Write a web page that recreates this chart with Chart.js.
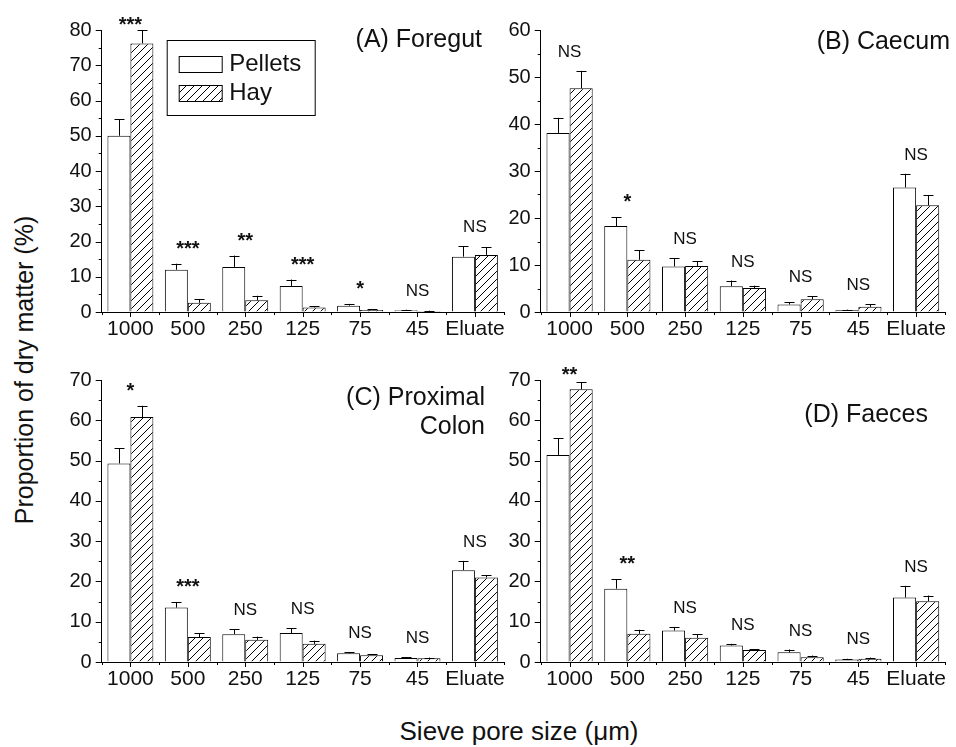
<!DOCTYPE html>
<html>
<head>
<meta charset="utf-8">
<script src="https://cdn.jsdelivr.net/npm/chart.js@4.4.0/dist/chart.umd.min.js"></script>
<style>
body { margin: 0; background: #fff; font-family: Arial, "Liberation Sans", sans-serif; }
#wrap { position: relative; width: 956px; height: 747px; overflow: hidden; }
canvas { position: absolute; }
.t { position: absolute; color: #111; white-space: nowrap; font-size: 25px; line-height: 29px; text-align: right; }
</style>
</head>
<body>
<div id="wrap">
	<canvas id="cA" width="470" height="345" style="left:40px;top:0px"></canvas>
	<canvas id="cB" width="476" height="345" style="left:480px;top:0px"></canvas>
	<canvas id="cC" width="470" height="345" style="left:40px;top:345px"></canvas>
	<canvas id="cD" width="476" height="345" style="left:480px;top:345px"></canvas>

	<div class="t" style="right:474px;top:24px">(A) Foregut</div>
	<div class="t" style="right:6px;top:26px">(B) Caecum</div>
	<div class="t" style="right:471px;top:382px">(C) Proximal<br>Colon</div>
	<div class="t" style="right:28px;top:399px">(D) Faeces</div>

	<div class="t" style="left:519px;top:718px;font-size:26px;line-height:26px;transform:translateX(-50%)">Sieve pore size (&mu;m)</div>
	<div class="t" style="left:24px;top:370px;font-size:25px;line-height:26px;transform:translate(-50%,-50%) rotate(-90deg)">Proportion of dry matter (%)</div>
</div>

<script>
var categories = ['1000', '500', '250', '125', '75', '45', 'Eluate'];
var seriesNames = ['Pellets', 'Hay'];

// (A) Foregut
var foregutPellets = [50.0, 12.0, 12.8, 7.4, 1.8, 0.5, 15.7];
var foregutPelletsSE = [4.7, 1.7, 3.2, 1.8, 0.5, 0.15, 3.0];
var foregutHay = [76.2, 2.6, 3.3, 1.3, 0.6, 0.3, 16.2];
var foregutHaySE = [3.8, 1.1, 1.3, 0.4, 0.25, 0.1, 2.2];
var foregutSig = ['***', '***', '**', '***', '*', 'NS', 'NS'];

// (B) Caecum
var caecumPellets = [38.1, 18.3, 9.7, 5.5, 1.6, 0.35, 26.5];
var caecumPelletsSE = [3.2, 1.9, 1.7, 1.2, 0.5, 0.15, 2.9];
var caecumHay = [47.6, 11.1, 9.8, 5.1, 2.7, 1.1, 22.7];
var caecumHaySE = [3.7, 2.0, 1.0, 0.5, 0.6, 0.5, 2.2];
var caecumSig = ['NS', '*', 'NS', 'NS', 'NS', 'NS', 'NS'];

// (C) Proximal colon
var colonPellets = [49.3, 13.5, 6.9, 7.2, 2.15, 1.0, 22.8];
var colonPelletsSE = [3.7, 1.4, 1.2, 1.2, 0.25, 0.2, 2.3];
var colonHay = [60.8, 6.2, 5.5, 4.5, 1.7, 0.9, 21.0];
var colonHaySE = [2.8, 1.0, 0.8, 0.8, 0.3, 0.2, 0.5];
var colonSig = ['*', '***', 'NS', 'NS', 'NS', 'NS', 'NS'];

// (D) Faeces
var faecesPellets = [51.4, 18.2, 7.8, 4.1, 2.4, 0.6, 16.0];
var faecesPelletsSE = [4.1, 2.4, 0.9, 0.4, 0.7, 0.2, 2.9];
var faecesHay = [67.7, 7.0, 6.0, 3.0, 1.2, 0.8, 15.1];
var faecesHaySE = [1.7, 1.0, 0.9, 0.2, 0.4, 0.3, 1.4];
var faecesSig = ['**', '**', 'NS', 'NS', 'NS', 'NS', 'NS'];

var FONT = 'Arial, "Liberation Sans", sans-serif';
Chart.defaults.font.family = FONT;
Chart.defaults.color = '#111';

// diagonal hatch for the hay bars
function hatch() {
	var c = document.createElement('canvas');
	c.width = 8;
	c.height = 8;
	var g = c.getContext('2d');
	g.fillStyle = '#fff';
	g.fillRect(0, 0, 8, 8);
	g.strokeStyle = '#000';
	g.lineWidth = 1;
	g.beginPath();
	g.moveTo(-1, 9); g.lineTo(9, -1);
	g.moveTo(-1, 1); g.lineTo(1, -1);
	g.moveTo(7, 9); g.lineTo(9, 7);
	g.stroke();
	return g.createPattern(c, 'repeat');
}

// tick marks, error bars, significance marks and legend
var extras = {
	id: 'extras',
	afterDraw: function(chart) {
		var ctx = chart.ctx;
		var area = chart.chartArea;
		var xs = chart.scales.x;
		var ys = chart.scales.y;
		var opts = chart.options.plugins.extras;
		ctx.save();
		ctx.strokeStyle = '#000';
		ctx.lineWidth = 1;
		ctx.beginPath();
		// y ticks, major every 10, minor every 5
		for (var v = 0; v <= ys.max; v += 5) {
			var py = Math.round(ys.getPixelForValue(v)) + 0.5;
			var len = v % 10 === 0 ? 6 : 3;
			ctx.moveTo(area.left, py);
			ctx.lineTo(area.left - len, py);
		}
		// x ticks at categories and boundaries
		var n = categories.length;
		var w = (area.right - area.left) / n;
		for (var i = 0; i < n; i++) {
			var px = Math.round(xs.getPixelForValue(i)) + 0.5;
			ctx.moveTo(px, area.bottom);
			ctx.lineTo(px, area.bottom + 5);
		}
		for (var j = 0; j <= n; j++) {
			var bx = Math.round(area.left + j * w) + 0.5;
			ctx.moveTo(bx, area.bottom);
			ctx.lineTo(bx, area.bottom + 3);
		}
		ctx.stroke();

		// error bars
		var tops = [];
		chart.data.datasets.forEach(function(ds, d) {
			var meta = chart.getDatasetMeta(d);
			meta.data.forEach(function(el, k) {
				var top = ys.getPixelForValue(ds.data[k] + ds.se[k]);
				var x = Math.round(el.x) + 0.5;
				ctx.beginPath();
				ctx.moveTo(x, el.y);
				ctx.lineTo(x, top);
				ctx.moveTo(x - 5, Math.round(top) + 0.5);
				ctx.lineTo(x + 5, Math.round(top) + 0.5);
				ctx.stroke();
				tops[k] = tops[k] === undefined ? top : Math.min(tops[k], top);
			});
		});

		// significance labels
		ctx.fillStyle = '#111';
		ctx.textAlign = 'center';
		ctx.textBaseline = 'alphabetic';
		opts.sig.forEach(function(s, k) {
			var c = Math.max(tops[k] - 20, area.top - 10);
			if (s === 'NS') {
				ctx.font = '17px ' + FONT;
				ctx.fillText(s, xs.getPixelForValue(k), c + 6);
			} else {
				ctx.font = 'bold 20px ' + FONT;
				ctx.fillText(s, xs.getPixelForValue(k), c + 11);
			}
		});

		// legend box
		if (opts.legend) {
			var lx = area.left + 65.5;
			var ly = area.top + 10.5;
			ctx.strokeRect(lx, ly, 148, 75);
			ctx.font = '24px ' + FONT;
			ctx.textAlign = 'left';
			ctx.textBaseline = 'middle';
			chart.data.datasets.forEach(function(ds, d) {
				var sy = ly + 16 + d * 29;
				ctx.fillStyle = ds.backgroundColor;
				ctx.fillRect(lx + 12, sy, 43, 16);
				ctx.strokeRect(lx + 12, sy, 43, 16);
				ctx.fillStyle = '#111';
				ctx.fillText(ds.label, lx + 62, sy + 8);
			});
		}
		ctx.restore();
	}
};

function crearPanel(id, pellets, pelletsSE, hay, haySE, sig, yMax, lay, legend) {
	var ctx = document.getElementById(id).getContext('2d');
	var axisGrid = { display: true, drawOnChartArea: false, drawTicks: false };
	var axisBorder = { display: true, color: '#000', width: 1 };
	return new Chart(ctx, {
		type: 'bar',
		data: {
			labels: categories,
			datasets: [{
				label: seriesNames[0],
				data: pellets,
				se: pelletsSE,
				backgroundColor: '#fff',
				borderColor: '#000',
				borderWidth: 1,
				categoryPercentage: 0.8,
				barPercentage: 1
			}, {
				label: seriesNames[1],
				data: hay,
				se: haySE,
				backgroundColor: hatch(),
				borderColor: '#000',
				borderWidth: 1,
				categoryPercentage: 0.8,
				barPercentage: 1
			}]
		},
		options: {
			responsive: false,
			animation: false,
			layout: { padding: { top: lay.top, right: lay.right, left: 0, bottom: 0 } },
			plugins: {
				legend: { display: false },
				tooltip: { enabled: false },
				extras: { sig: sig, legend: legend }
			},
			scales: {
				x: {
					offset: true,
					grid: axisGrid,
					border: axisBorder,
					ticks: { font: { size: 21 }, padding: 5, maxRotation: 0, autoSkip: false },
					afterFit: function(s) { s.height = lay.xh; }
				},
				y: {
					min: 0,
					max: yMax,
					grid: axisGrid,
					border: axisBorder,
					ticks: { stepSize: 10, font: { size: 20 }, padding: 10 },
					afterFit: function(s) { s.width = lay.yw; }
				}
			}
		},
		plugins: [extras]
	});
}

crearPanel('cA', foregutPellets, foregutPelletsSE, foregutHay, foregutHaySE, foregutSig, 80,
	{ top: 30, right: 4.5, xh: 33, yw: 61.7 }, true);
crearPanel('cB', caecumPellets, caecumPelletsSE, caecumHay, caecumHaySE, caecumSig, 60,
	{ top: 30, right: 11, xh: 33, yw: 60.7 }, false);
crearPanel('cC', colonPellets, colonPelletsSE, colonHay, colonHaySE, colonSig, 70,
	{ top: 35, right: 4.5, xh: 28, yw: 61.7 }, false);
crearPanel('cD', faecesPellets, faecesPelletsSE, faecesHay, faecesHaySE, faecesSig, 70,
	{ top: 35, right: 11, xh: 28, yw: 60.7 }, false);
</script>
</body>
</html>
